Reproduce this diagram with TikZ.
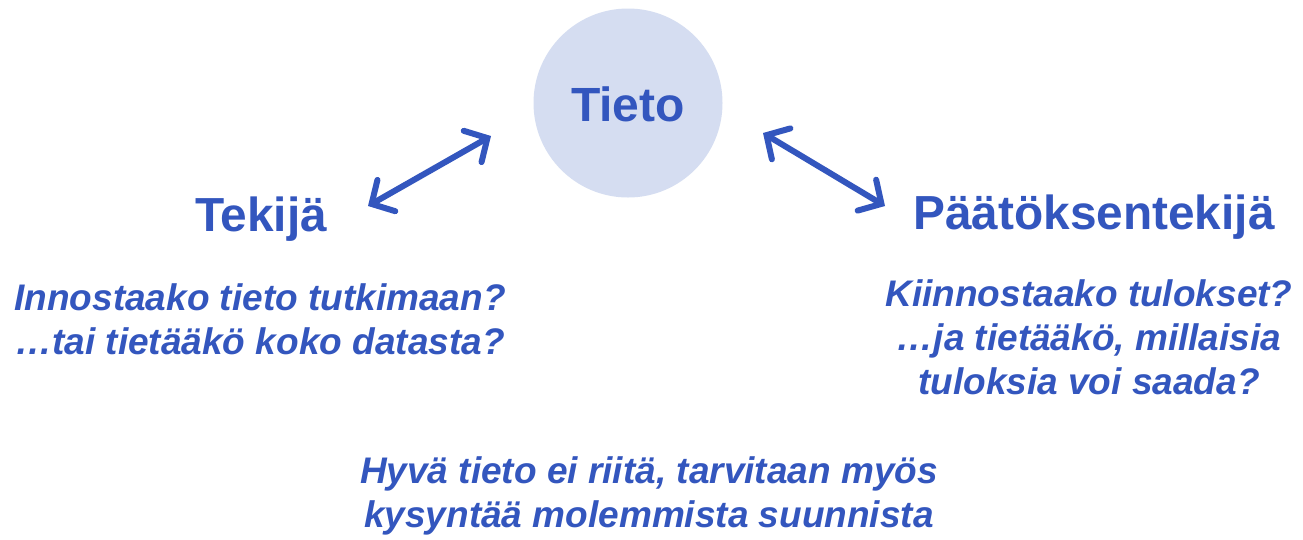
\documentclass[tikz,border=0pt]{standalone}
\usepackage{fontspec}
\setmainfont{Liberation Sans}
\usetikzlibrary{arrows.meta}
\definecolor{tblue}{RGB}{51,86,190}
\definecolor{tfill}{RGB}{213,221,241}
\begin{document}
\begin{tikzpicture}[x=1pt,y=-1pt,
  big/.style={text=tblue,font=\fontsize{47.8}{56}\selectfont\bfseries},
  ital/.style={text=tblue,font=\fontsize{37}{44}\selectfont\bfseries\itshape,align=center},
  dbl/.style={draw=tblue,line width=6pt,line cap=round,{Straight Barb[length=17pt,width=36pt,line cap=round]}-{Straight Barb[length=17pt,width=36pt,line cap=round]}}]
\useasboundingbox (0,0) rectangle (1303,539);
\fill[white] (0,0) rectangle (1303,539);
\node[circle,fill=tfill,minimum size=189pt,inner sep=0pt] (tieto) at (628,103) {};
\node[text=tblue,font=\fontsize{48}{56}\selectfont\bfseries] (tl) at (628,104) {Tieto};
\node[big] (tek) at (261,219) {Tekijä};
\node[big] (pat) at (1094,217) {Päätöksentekijä};
\node[ital] (lq) at (260,319) {Innostaako tieto tutkimaan?\\…tai tietääkö koko datasta?};
\node[ital] (rq) at (1089,337) {Kiinnostaako tulokset?\\…ja tietääkö, millaisia\\tuloksia voi saada?};
\node[ital] (bq) at (649,496) {Hyvä tieto ei riitä, tarvitaan myös\\kysyntää molemmista suunnista};
\coordinate (a1) at (368,206);
\coordinate (a2) at (491,136);
\coordinate (b1) at (763,133);
\coordinate (b2) at (885,206);
\draw[dbl] (a1) -- (a2);
\draw[dbl] (b1) -- (b2);
\end{tikzpicture}
\end{document}
